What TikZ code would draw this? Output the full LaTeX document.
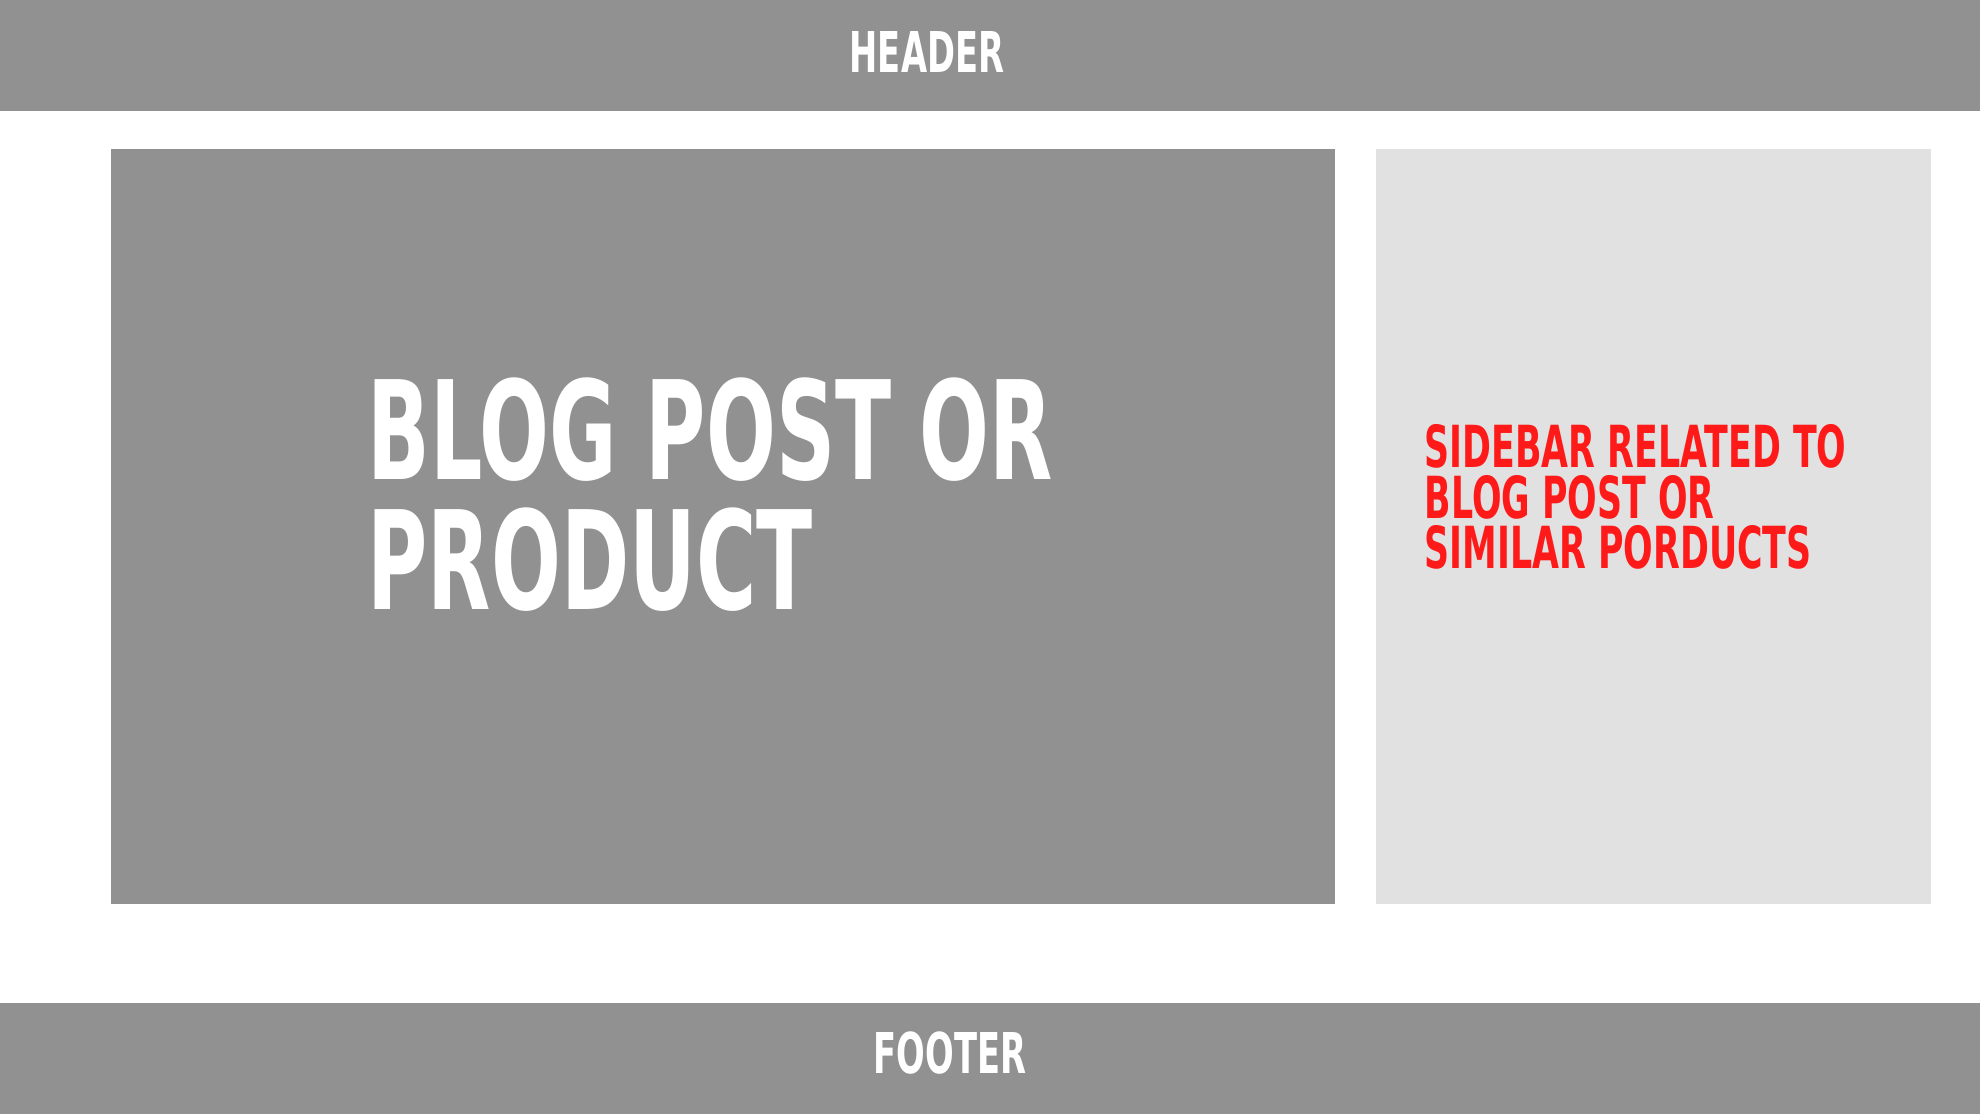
\documentclass[tikz,border=0pt]{standalone}
\usepackage{fontspec}
\newfontfamily\boardfont[FakeStretch=0.6]{DejaVu Sans}
\definecolor{panelgray}{RGB}{145,145,145}
\definecolor{sidegray}{RGB}{225,225,225}
\definecolor{sidered}{RGB}{255,26,26}
\begin{document}
\begin{tikzpicture}[line join=round, line cap=round]
	\tikzset{box/.style={draw=none, inner sep=0pt, outer sep=0pt, anchor=south west},
		label text/.style={inner sep=0pt, anchor=base west, align=left, font=\boardfont\bfseries}}
	\useasboundingbox (0,0) rectangle (19.8,11.14);
	\fill[white] (0,0) rectangle (19.8,11.14);
	% bands and panels
	\node[box, fill=panelgray, minimum width=19.8cm, minimum height=1.11cm] (header) at (0,10.03) {};
	\node[box, fill=panelgray, minimum width=19.8cm, minimum height=1.11cm] (footer) at (0,0) {};
	\node[box, fill=panelgray, minimum width=12.24cm, minimum height=7.55cm] (post) at (1.11,2.10) {};
	\node[box, fill=sidegray, minimum width=5.55cm, minimum height=7.55cm] (sidebar) at (13.76,2.10) {};
	% texts
	\node[label text, text=white, font=\boardfont\bfseries\fontsize{16}{16}\selectfont] (headertext) at (8.49,10.41) {HEADER};
	\node[label text, text=white, font=\boardfont\bfseries\fontsize{16}{16}\selectfont] (footertext) at (8.73,0.40) {FOOTER};
	\node[label text, text=white, font=\boardfont\bfseries\fontsize{39}{37}\selectfont] (posttext) at (3.67,5.04) {BLOG POST OR\\PRODUCT};
	\node[label text, text=sidered, font=\boardfont\bfseries\fontsize{16.5}{14.5}\selectfont] (sidetext) at (14.24,5.45) {SIDEBAR RELATED TO\\BLOG POST OR\\SIMILAR PORDUCTS};
\end{tikzpicture}
\end{document}
